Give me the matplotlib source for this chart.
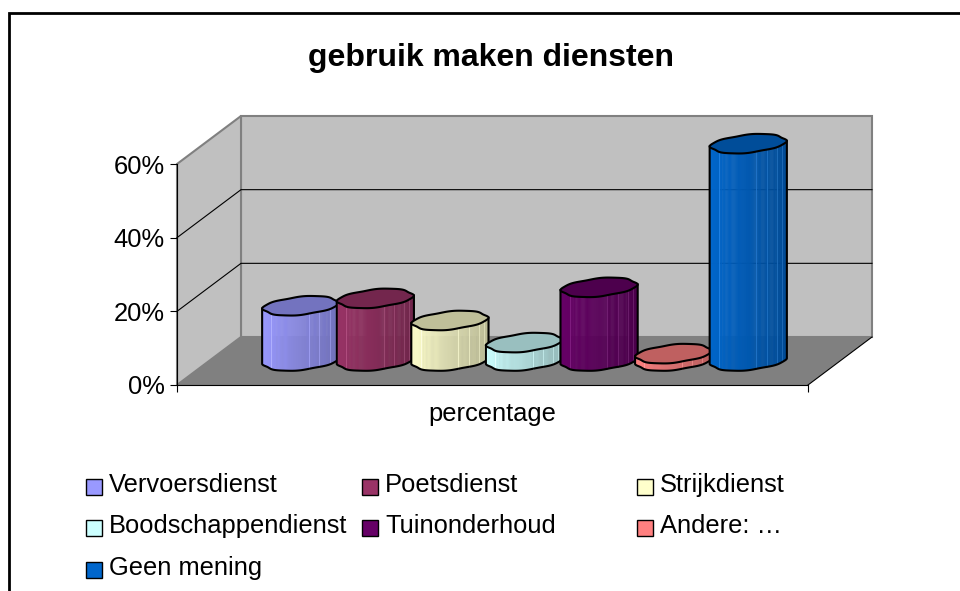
import numpy as np
import matplotlib
matplotlib.use("Agg")
import matplotlib.pyplot as plt
from matplotlib.patches import Polygon, Rectangle

plt.rcParams["font.family"] = ["Liberation Sans", "DejaVu Sans"]

services = ["Vervoersdienst", "Poetsdienst", "Strijkdienst", "Boodschappendienst",
            "Tuinonderhoud", "Andere: \u2026", "Geen mening"]
percentages = [15, 17, 11, 5, 20, 2, 59]
bar_colors = ["#9999FF", "#993366", "#FFFFCC", "#CCFFFF", "#660066", "#FF8080", "#0066CC"]
y_ticks = [0, 20, 40, 60]
y_labels = ["0%", "20%", "40%", "60%"]

W, H = 960, 591
# front plane of the chart box in pixels
LEFT, RIGHT, BOTTOM, TOP = 177, 808, 385, 164
XMIN, XMAX = -1.23, 7.23
YMAX = 60
# depth of the box, in data units
DX = 64 / ((RIGHT - LEFT) / (XMAX - XMIN))
DY = 48 / ((BOTTOM - TOP) / YMAX)

fig = plt.figure(figsize=(W / 100, H / 100), dpi=100)
fig.patch.set_facecolor("white")

# outer border, runs off the right and bottom of the picture
fig.add_artist(Rectangle((9 / W, -0.05), 1.05, 1.05 - 13 / H, transform=fig.transFigure,
                         fill=False, edgecolor="black", linewidth=2))

ax = fig.add_axes([LEFT / W, 1 - BOTTOM / H, (RIGHT - LEFT) / W, (BOTTOM - TOP) / H])
ax.set_xlim(XMIN, XMAX)
ax.set_ylim(0, YMAX)
ax.patch.set_visible(False)


def shift(x, y, d):
    return x + d * DX, y + d * DY


def box(points, **kw):
    ax.add_patch(Polygon([shift(*p) for p in points], clip_on=False, **kw))


# walls and floor
wall = dict(facecolor="#C0C0C0", edgecolor="#808080", linewidth=1.5, zorder=1)
box([(XMIN, 0, 1), (XMAX, 0, 1), (XMAX, YMAX, 1), (XMIN, YMAX, 1)], **wall)
box([(XMIN, 0, 0), (XMIN, 0, 1), (XMIN, YMAX, 1), (XMIN, YMAX, 0)], **wall)
box([(XMIN, 0, 0), (XMAX, 0, 0), (XMAX, 0, 1), (XMIN, 0, 1)],
    facecolor="#808080", edgecolor="none", zorder=1.1)

# gridlines, side wall then back wall
for tick in y_ticks[1:-1]:
    x0, y0 = shift(XMIN, tick, 1)
    x1, y1 = shift(XMAX, tick, 1)
    ax.plot([XMIN, x0, x1], [tick, y0, y1], color="black", lw=0.8, zorder=1.5, clip_on=False)

# front right edge of the floor
x0, y0 = shift(XMAX, 0, 1)
ax.plot([XMAX, x0], [0, y0], color="black", lw=0.8, zorder=1.5, clip_on=False)

# cylinders: a projected circle with the dents the faceted original has
t = np.linspace(0, 2 * np.pi, 241)
r = 1 + 0.03 * np.cos(4 * t) - 0.02 * np.cos(8 * t + 0.6)
half_width = 0.4725
half_depth = 0.2
u = half_width * r * np.cos(t)
v = half_depth * r * np.sin(t)
outline_x = u + v * DX
outline_y = v * DY
facet_lines = [0.12, 0.61, 0.74, 0.87, 0.94]

# front part of the outline, from left tip to right tip
i_left = int(np.argmin(outline_x[:-1]))
i_right = int(np.argmax(outline_x[:-1]))
order = np.arange(i_left, i_left + 240) % 240
front = order[: int(np.where(order == i_right)[0][0]) + 1]
front_x = outline_x[front]
front_y = outline_y[front]
x_frac = (front_x - front_x.min()) / (front_x.max() - front_x.min())

for i, (val, col) in enumerate(zip(percentages, bar_colors)):
    z = 3 + i
    rgb = np.array(matplotlib.colors.to_rgb(col))
    cx, cy = shift(i, 0, 0.5)
    # side, drawn as small strips getting darker to the right
    for k in range(len(front) - 1):
        shade = 1 - 0.27 * x_frac[k]
        xs = cx + np.array([front_x[k], front_x[k + 1], front_x[k + 1], front_x[k]])
        ys = cy + np.array([front_y[k], front_y[k + 1], front_y[k + 1] + val, front_y[k] + val])
        ax.fill(xs, ys, color=rgb * shade, lw=0.3, zorder=z, clip_on=False)
    for frac in facet_lines:
        k = int(np.argmin(np.abs(x_frac - frac)))
        ax.plot([cx + front_x[k]] * 2, [cy + front_y[k], cy + front_y[k] + val],
                color=np.minimum(rgb * (1 - 0.27 * frac) + 0.13, 1), lw=0.6, zorder=z, clip_on=False)
    # outline of side and cap
    ax.plot(cx + np.r_[front_x[0], front_x, front_x[-1]],
            cy + np.r_[front_y[0] + val, front_y, front_y[-1] + val],
            color="black", lw=1.5, zorder=z, clip_on=False)
    ax.fill(cx + outline_x, cy + outline_y + val, facecolor=rgb * 0.75, edgecolor="black",
            lw=1.5, zorder=z, clip_on=False)

# axes
for side in ["top", "right"]:
    ax.spines[side].set_visible(False)
ax.set_yticks(y_ticks)
ax.set_yticklabels(y_labels, fontsize=18.4)
ax.set_xticks([XMIN, XMAX])
ax.set_xticklabels(["", ""])
ax.tick_params(axis="both", length=5, width=0.8)
ax.tick_params(axis="y", pad=4)
ax.set_xlabel("percentage", fontsize=18.4, labelpad=4)

fig.text(491 / W, 1 - 58 / H, "gebruik maken diensten", fontsize=23, fontweight="bold",
         ha="center", va="center")

# legend, three columns with uneven widths like the original
col_x = [86, 362, 637]
row_y = [485, 526, 568]
for i, (name, col) in enumerate(zip(services, bar_colors)):
    px = col_x[i % 3]
    py = row_y[i // 3]
    fig.add_artist(Rectangle((px / W, 1 - (py + 10) / H), 16 / W, 16 / H, transform=fig.transFigure,
                             facecolor=col, edgecolor="black", linewidth=1))
    fig.text((px + 23) / W, 1 - py / H, name, fontsize=18.4, ha="left", va="center")

fig.savefig("out.png", dpi=100)
